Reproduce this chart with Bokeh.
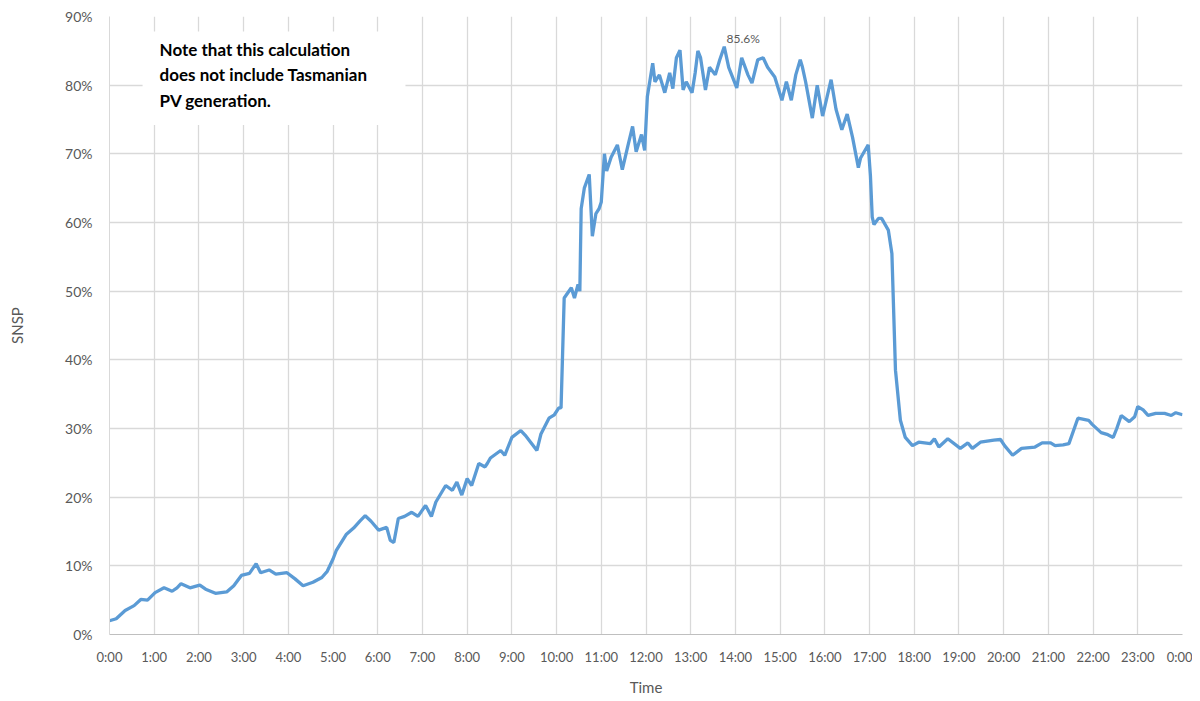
from bokeh.plotting import figure
from bokeh.models import Range1d, FixedTicker, Label, BoxAnnotation, ColumnDataSource
from bokeh.embed import file_html
from bokeh.resources import INLINE

# time of day (hours) and SNSP (%)
hours = [
    0.00, 0.15, 0.35, 0.55, 0.70, 0.85, 1.02, 1.22, 1.40, 1.51, 1.60, 1.80, 2.02, 2.15, 2.37, 2.62,
    2.78, 2.95, 3.13, 3.28, 3.38, 3.57, 3.72, 3.97, 4.15, 4.33, 4.55, 4.75, 4.87, 5.00, 5.07, 5.30,
    5.46, 5.60, 5.72, 5.85, 6.02, 6.20, 6.28, 6.36, 6.46, 6.60, 6.76, 6.90, 7.07, 7.20, 7.30, 7.52,
    7.67, 7.77, 7.88, 8.00, 8.10, 8.26, 8.40, 8.45, 8.52, 8.75, 8.84, 9.00, 9.20, 9.30, 9.56, 9.65,
    9.83, 9.95, 10.05, 10.10, 10.17, 10.33, 10.40, 10.48, 10.52, 10.55, 10.62, 10.73, 10.80, 10.88,
    10.95, 11.00, 11.07, 11.12, 11.22, 11.36, 11.47, 11.60, 11.70, 11.78, 11.90, 11.97, 12.03, 12.15,
    12.20, 12.30, 12.42, 12.53, 12.60, 12.68, 12.76, 12.83, 12.90, 13.03, 13.10, 13.16, 13.22, 13.33,
    13.42, 13.55, 13.65, 13.75, 13.85, 14.03, 14.14, 14.28, 14.37, 14.50, 14.62, 14.72, 14.88, 15.04,
    15.14, 15.25, 15.35, 15.45, 15.50, 15.57, 15.72, 15.83, 15.95, 16.05, 16.14, 16.25, 16.38, 16.50,
    16.62, 16.75, 16.80, 16.88, 16.97, 17.02, 17.06, 17.10, 17.20, 17.27, 17.42, 17.50, 17.58, 17.69,
    17.80, 17.96, 18.10, 18.36, 18.45, 18.55, 18.75, 19.03, 19.20, 19.30, 19.48, 19.78, 19.93, 20.02,
    20.20, 20.40, 20.70, 20.86, 21.05, 21.15, 21.33, 21.46, 21.66, 21.90, 21.98, 22.18, 22.33, 22.45,
    22.53, 22.63, 22.81, 22.93, 23.00, 23.12, 23.23, 23.40, 23.60, 23.75, 23.85, 24.00,
]
snsp = [
    2.0, 2.3, 3.5, 4.2, 5.1, 5.0, 6.1, 6.8, 6.3, 6.8, 7.4, 6.8, 7.2, 6.6, 6.0, 6.2,
    7.1, 8.6, 8.9, 10.3, 9.0, 9.4, 8.8, 9.0, 8.1, 7.1, 7.6, 8.3, 9.2, 11.0, 12.2, 14.6,
    15.5, 16.5, 17.3, 16.5, 15.2, 15.6, 13.7, 13.4, 16.9, 17.2, 17.8, 17.2, 18.8, 17.2, 19.3, 21.7,
    21.0, 22.2, 20.3, 22.7, 21.7, 24.9, 24.4, 24.9, 25.7, 26.8, 26.1, 28.7, 29.7, 29.0, 26.8, 29.2,
    31.5, 32.0, 33.0, 33.0, 49.0, 50.5, 49.0, 51.0, 50.0, 62.0, 65.0, 67.0, 58.0, 61.3,
    62.0, 63.0, 70.0, 67.5, 69.5, 71.3, 67.7, 71.3, 74.0, 70.3, 72.8, 70.5, 78.3, 83.2,
    80.5, 81.5, 78.9, 81.8, 79.5, 84.0, 85.1, 79.3, 80.5, 78.9, 81.8, 85.0, 84.0, 79.3,
    82.6, 81.5, 83.7, 85.6, 82.6, 79.6, 84.0, 81.5, 80.3, 83.7, 84.0, 82.6, 81.2, 77.8,
    80.5, 77.8, 81.5, 83.7, 82.6, 80.5, 75.2, 80.0, 75.5, 78.3, 80.8, 76.5, 73.5, 75.8,
    72.4, 68.0, 69.4, 70.3, 71.3, 66.8, 60.8, 59.7, 60.6, 60.6, 58.9, 55.5, 38.5, 31.2,
    28.7, 27.5, 28.0, 27.8, 28.5, 27.3, 28.5, 27.1, 27.9, 27.1, 28.0, 28.3, 28.4, 27.5,
    26.1, 27.1, 27.3, 27.9, 27.9, 27.5, 27.6, 27.8, 31.5, 31.2, 30.6, 29.4, 29.1, 28.7,
    30.0, 31.9, 31.0, 31.7, 33.2, 32.7, 31.9, 32.2, 32.2, 31.9, 32.3, 32.0,
]

x_ticks = list(range(25))
x_tick_labels = [f"{h % 24}:00" for h in x_ticks]
y_ticks = list(range(0, 91, 10))
y_tick_labels = [f"{v}%" for v in y_ticks]

note_text = "Note that this calculation\ndoes not include Tasmanian\nPV generation."

FONT = "Lato"
GREY = "#595959"
GRID = "#d9d9d9"

p = figure(width=1192, height=698, output_backend="svg", toolbar_location=None,
           x_range=Range1d(0, 24), y_range=Range1d(0, 90),
           min_border_left=109, min_border_right=10, min_border_top=16, min_border_bottom=58)
p.outline_line_color = None
p.background_fill_color = "white"

p.xaxis.ticker = FixedTicker(ticks=x_ticks)
p.xaxis.major_label_overrides = {t: l for t, l in zip(x_ticks, x_tick_labels)}
p.yaxis.ticker = FixedTicker(ticks=y_ticks)
p.yaxis.major_label_overrides = {t: l for t, l in zip(y_ticks, y_tick_labels)}

for ax in (p.xaxis[0], p.yaxis[0]):
    ax.major_tick_line_color = None
    ax.minor_tick_line_color = None
    ax.major_label_text_color = GREY
    ax.major_label_text_font = FONT
    ax.major_label_text_font_size = "13px"
    ax.axis_label_text_color = GREY
    ax.axis_label_text_font = FONT
    ax.axis_label_text_font_size = "15px"
    ax.axis_label_text_font_style = "normal"

p.xaxis.axis_line_color = "#bfbfbf"
p.yaxis.axis_line_color = GRID
p.xaxis.axis_label = "Time"
p.yaxis.axis_label = "SNSP"
p.xaxis.major_label_standoff = 8
p.xaxis.axis_label_standoff = 10
p.yaxis.major_label_standoff = 11
p.yaxis.major_label_text_font_size = "14px"
p.yaxis.axis_label_standoff = 36

p.xgrid.grid_line_color = GRID
p.ygrid.grid_line_color = GRID
p.xgrid.grid_line_width = 1.3
p.ygrid.grid_line_width = 1.3

src = ColumnDataSource(dict(x=hours, y=snsp))
p.line("x", "y", source=src, line_color="#5B9BD5", line_width=3.3)

# note box covering the grid
p.add_layout(BoxAnnotation(left=0.74, right=6.62, bottom=74.2, top=87.8,
                           fill_color="white", fill_alpha=1.0, line_color=None))
p.add_layout(Label(x=1.12, y=86.7, text=note_text, text_baseline="top", text_align="left",
                   text_font=FONT, text_font_size="17px", text_font_style="bold",
                   text_color="black", text_line_height=1.2))

# peak data label
i_peak = max(range(len(snsp)), key=lambda i: snsp[i])
p.add_layout(Label(x=hours[i_peak], y=snsp[i_peak], text=f"{snsp[i_peak]:.1f}%",
                   text_align="center", text_baseline="bottom", x_offset=19, y_offset=1,
                   text_font=FONT, text_font_size="12px", text_color=GREY))

open("out.html", "w").write(file_html(p, INLINE))
